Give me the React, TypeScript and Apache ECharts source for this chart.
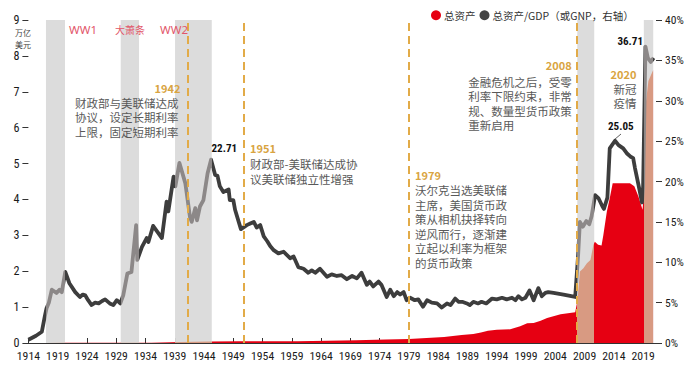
import React, { useEffect, useRef } from 'react';
import * as echarts from 'echarts';

// Fed total assets / GDP (%), right axis — positions on the chart's year axis
const ratioYears = [
  1914.0, 1915.3, 1916.3, 1916.8, 1917.1, 1917.5, 1918.0, 1918.8, 1919.3, 1919.7, 1920.3,
  1921.0, 1922.0, 1922.8, 1923.3, 1923.7, 1924.2, 1924.8, 1925.4, 1926.0, 1926.6, 1927.1,
  1927.9, 1928.5, 1929.1, 1929.7, 1930.2, 1930.9, 1931.6, 1932.4, 1932.6, 1933.4, 1934.2,
  1934.5, 1935.3, 1936.1, 1936.8, 1937.6, 1937.9, 1938.8, 1939.1, 1939.8, 1940.8, 1941.6,
  1941.9, 1942.5, 1942.8, 1943.3, 1943.9, 1944.6, 1945.2, 1945.9, 1946.3, 1946.7, 1947.3,
  1948.2, 1948.4, 1949.0, 1949.3, 1950.3, 1951.3, 1951.9, 1952.5, 1953.0, 1953.6, 1954.2,
  1954.8, 1955.3, 1955.9, 1956.7, 1957.6, 1958.7, 1959.3, 1960.1, 1961.0, 1961.8, 1962.4,
  1963.0, 1963.8, 1965.0, 1965.8, 1966.7, 1967.5, 1968.4, 1969.3, 1970.1, 1970.9, 1971.8,
  1972.3, 1972.9, 1973.8, 1974.3, 1975.2, 1975.8, 1976.4, 1977.0, 1977.5, 1978.1, 1978.6,
  1979.2, 1980.0, 1980.6, 1981.4, 1982.1, 1982.9, 1983.8, 1984.6, 1985.5, 1986.1, 1986.9,
  1987.5, 1988.1, 1988.9, 1989.4, 1990.0, 1990.8, 1991.4, 1992.2, 1993.2, 1994.0, 1994.9,
  1995.7, 1996.6, 1997.2, 1997.7, 1998.3, 1998.9, 1999.6, 2000.3, 2001.1, 2001.7, 2002.3,
  2002.8, 2003.7, 2005.4, 2007.4, 2007.9, 2008.2, 2008.7, 2009.3, 2009.8, 2010.2, 2010.8,
  2011.4, 2012.0, 2012.3, 2012.9, 2013.3, 2014.2, 2014.8, 2015.6, 2016.2, 2016.8, 2017.3,
  2017.6, 2018.2, 2018.8, 2019.0, 2019.4, 2019.8, 2020.3, 2020.8,
];
const ratioValues = [
  0.4, 0.9, 1.4, 3.3, 4.3, 5.0, 6.6, 6.2, 6.6, 6.3, 8.8,
  7.4, 6.3, 5.7, 6.0, 5.9, 5.3, 4.7, 5.0, 4.9, 5.2, 5.4,
  4.9, 4.7, 5.3, 4.9, 5.9, 8.6, 8.8, 14.6, 10.3, 11.9, 13.0,
  12.5, 14.5, 13.7, 13.0, 17.5, 16.3, 20.6, 19.4, 22.3, 19.8, 15.6,
  15.0, 16.7, 15.2, 16.9, 17.7, 21.0, 22.71, 20.8, 20.7, 19.4, 18.7,
  19.0, 17.7, 17.7, 16.5, 14.1, 14.6, 14.8, 15.0, 14.3, 14.6, 13.2,
  12.6, 12.0, 11.5, 11.1, 11.3, 10.5, 10.7, 9.4, 9.2, 8.7, 9.0,
  8.7, 9.2, 8.2, 8.5, 8.3, 8.4, 7.9, 8.3, 8.0, 8.7, 7.2,
  7.6, 7.0, 7.6, 7.2, 5.7, 6.6, 5.8, 6.3, 6.0, 6.3, 5.3,
  5.6, 5.3, 5.4, 4.5, 5.3, 5.0, 4.9, 4.4, 4.9, 4.7, 5.5,
  5.1, 5.1, 4.9, 4.7, 5.1, 4.9, 5.1, 4.9, 5.5, 5.4, 5.6,
  5.4, 5.6, 5.3, 5.8, 5.4, 5.6, 6.5, 5.3, 6.8, 5.8, 6.2,
  6.3, 6.2, 6.0, 5.7, 10.9, 15.0, 14.4, 15.1, 14.7, 15.7, 18.3,
  17.9, 17.0, 16.6, 18.0, 24.1, 25.05, 24.5, 24.1, 23.5, 23.1, 22.9,
  21.7, 19.6, 17.4, 19.4, 36.71, 35.3, 34.8, 35.3,
];

// Fed total assets (trillion USD), left axis
const assetYears = [
  1914, 1917, 1920, 1925, 1930, 1935, 1940, 1945, 1950, 1955, 1960, 1965, 1970, 1975,
  1979, 1982, 1985, 1988, 1990, 1991.3, 1992.5, 1994, 1996.3, 1998, 1999.2, 2000.3,
  2001.5, 2002.6, 2004.9, 2007.4, 2007.8, 2008.2, 2008.8, 2009.4, 2010.0, 2010.5, 2010.75,
  2011.3, 2011.9, 2012.2, 2012.8, 2013.3, 2013.8, 2016.75, 2017.5, 2018.2, 2018.9, 2019.1,
  2019.4, 2019.9, 2020.7,
];
const assetValues = [
  0.001, 0.003, 0.006, 0.005, 0.006, 0.01, 0.025, 0.045, 0.047, 0.05, 0.052, 0.06, 0.075, 0.095,
  0.11, 0.14, 0.17, 0.22, 0.25, 0.29, 0.34, 0.37, 0.38, 0.47, 0.55, 0.56,
  0.62, 0.7, 0.8, 0.86, 1.2, 1.99, 2.08, 2.22, 2.31, 2.73, 2.82,
  2.74, 2.72, 3.0, 3.66, 4.03, 4.45, 4.45, 4.37, 4.08, 3.71, 4.1,
  6.6, 7.3, 7.6,
];

const xTickYears = [
  1914, 1919, 1924, 1929, 1934, 1939, 1944, 1949, 1954, 1959, 1964, 1969, 1974, 1979,
  1984, 1989, 1994, 1999, 2004, 2009, 2014, 2019,
];

const bandStarts = [1917.0, 1929.77, 1939.05, 2007.75, 2019.12];
const bandEnds = [1920.25, 1932.9, 1945.32, 2010.65, 2020.73];
const eventYears = [1941.2, 1950.84, 1979.04, 2007.69];

const seriesAssets = '总资产';
const seriesRatio = '总资产/GDP（或GNP，右轴）';

const RED = '#e60012';
const RED_IN_BAND = '#d89a82';
const LINE = '#3d3d3d';
const LINE_IN_BAND = '#8c8888';
const GOLD = '#d9a441';
const NOTE = '#595959';
const WAR = '#e2566a';
const CJK = '"Noto Sans CJK SC", "Noto Sans", sans-serif';

// pick the narrowest installed sans for the condensed-looking numerals
function pickNarrow() {
  const candidates = [
    'Liberation Sans Narrow',
    'Roboto Condensed',
    'Noto Sans ExtraCondensed',
    'Noto Sans Condensed',
    'DejaVu Sans Condensed',
    'Liberation Sans',
  ];
  const canvas = document.createElement('canvas');
  const ctx = canvas.getContext('2d');
  const sample = '1914 22.71 WMi%';
  if (!ctx) return { family: 'sans-serif', digit: 0.556, boldDigit: 0.556 };
  const w = (font: string) => {
    ctx.font = font;
    return ctx.measureText(sample).width;
  };
  const mono = w('100px monospace');
  const serif = w('100px serif');
  let chosen = 'Liberation Sans';
  let best = Infinity;
  for (const c of candidates) {
    const a = w(`100px "${c}", monospace`);
    const b = w(`100px "${c}", serif`);
    const installed = !(a === mono && b === serif) && Math.abs(a - b) < 0.01;
    if (installed) {
      ctx.font = `100px "${c}"`;
      const d = ctx.measureText('1914').width / 400;
      if (d < best) {
        best = d;
        chosen = c;
      }
    }
  }
  ctx.font = `100px "${chosen}"`;
  const digit = ctx.measureText('1914').width / 400;
  ctx.font = `bold 100px "${chosen}"`;
  const boldDigit = ctx.measureText('2271').width / 400;
  return { family: `"${chosen}", sans-serif`, digit, boldDigit };
}

function buildPieces(base: string, inBand: string) {
  const pieces: any[] = [];
  for (let i = 0; i < bandStarts.length; i++) {
    if (i === 0) pieces.push({ lt: bandStarts[0], color: base });
    else pieces.push({ gt: bandEnds[i - 1], lt: bandStarts[i], color: base });
    pieces.push({ gte: bandStarts[i], lte: bandEnds[i], color: inBand });
  }
  pieces.push({ gt: bandEnds[bandEnds.length - 1], color: base });
  return pieces;
}

function txt(x: number, y: number, text: string, opts: any = {}) {
  return {
    type: 'text',
    x,
    y,
    z: 100,
    silent: true,
    style: {
      text,
      fill: opts.fill || NOTE,
      fontSize: opts.fontSize || 11.5,
      fontFamily: opts.fontFamily || CJK,
      fontWeight: opts.fontWeight || 'normal',
      align: opts.align || 'left',
      verticalAlign: opts.verticalAlign || 'middle',
      lineHeight: opts.lineHeight || 14.5,
    },
  };
}

export default function App() {
  const ref = useRef<HTMLDivElement>(null);

  useEffect(() => {
    if (!ref.current) return;
    const chart = echarts.init(ref.current, undefined, { renderer: 'svg' });

    const narrow = pickNarrow();
    // reference numerals: ~5.8px per digit on axes, ~5.3px per bold digit for peak values
    const xFont = Math.min(15, 5.8 / narrow.digit);
    const yFont = Math.min(16, 6.0 / narrow.digit);
    const rFont = Math.min(15, 5.7 / narrow.digit);
    const peakFont = Math.min(14, 5.6 / narrow.boldDigit);

    const ratioData = ratioYears.map((y, i) => [y, ratioValues[i]]);
    const assetData = assetYears.map((y, i) => [y, assetValues[i]]);

    const option: any = {
      animation: false,
      backgroundColor: '#ffffff',
      grid: { left: 28.4, right: 40, top: 20, bottom: 24, containLabel: false, outerBoundsMode: 'none' },
      legend: {
        left: 426,
        top: 5,
        itemWidth: 10,
        itemHeight: 10,
        itemGap: 4,
        icon: 'circle',
        textStyle: { fontSize: 10.5, color: '#333', fontFamily: CJK, padding: [0, 0, 0, -2] },
        data: [
          { name: seriesAssets, icon: 'circle', itemStyle: { color: RED } },
          { name: seriesRatio, icon: 'circle', itemStyle: { color: '#444' } },
        ],
      },
      xAxis: {
        type: 'value',
        min: 1914,
        max: 2021.2,
        splitLine: { show: false },
        axisLine: { show: true, lineStyle: { color: '#333', width: 1.2 } },
        axisTick: { show: true, inside: true, length: 5, customValues: xTickYears, lineStyle: { color: '#333' } },
        axisLabel: {
          customValues: xTickYears,
          margin: 6.5,
          color: '#1a1a1a',
          fontSize: xFont,
          fontFamily: narrow.family,
          hideOverlap: false,
          showMinLabel: true,
          showMaxLabel: true,
          formatter: (v: number) => String(Math.round(v)),
        },
      },
      yAxis: [
        {
          type: 'value',
          min: 0,
          max: 9,
          interval: 1,
          splitLine: { show: false },
          axisLine: { show: false },
          axisTick: { show: true, inside: false, length: 6, lineStyle: { color: '#333' } },
          axisLabel: { margin: 9, color: '#1a1a1a', fontSize: yFont, fontFamily: narrow.family, hideOverlap: false },
        },
        {
          type: 'value',
          min: 0,
          max: 40,
          interval: 5,
          position: 'right',
          splitLine: { show: false },
          axisLine: { show: false },
          axisTick: { show: true, inside: false, length: 6, lineStyle: { color: '#333' } },
          axisLabel: {
            margin: 9,
            color: '#1a1a1a',
            fontSize: rFont,
            fontFamily: narrow.family,
            formatter: '{value}%',
            hideOverlap: false,
          },
        },
      ],
      visualMap: [
        { type: 'piecewise', show: false, seriesIndex: 1, dimension: 0, pieces: buildPieces(RED, RED_IN_BAND) },
        { type: 'piecewise', show: false, seriesIndex: 3, dimension: 0, pieces: buildPieces(LINE, LINE_IN_BAND) },
      ],
      series: [
        {
          name: '_bands',
          type: 'line',
          z: 1,
          yAxisIndex: 0,
          data: [[1914, 0]],
          symbol: 'none',
          lineStyle: { opacity: 0 },
          silent: true,
          markArea: {
            silent: true,
            itemStyle: { color: '#dcdcdc' },
            label: { show: false },
            data: bandStarts.map((s, i) => [{ xAxis: s }, { xAxis: bandEnds[i] }]),
          },
        },
        {
          name: seriesAssets,
          type: 'line',
          z: 2,
          yAxisIndex: 0,
          data: assetData,
          symbol: 'none',
          itemStyle: { color: RED },
          lineStyle: { width: 0, opacity: 0 },
          areaStyle: { opacity: 1 },
          silent: true,
        },
        {
          name: '_events',
          type: 'line',
          z: 3,
          yAxisIndex: 0,
          data: [[1914, 0]],
          symbol: 'none',
          lineStyle: { opacity: 0 },
          silent: true,
          markLine: {
            silent: true,
            symbol: ['none', 'none'],
            label: { show: false },
            lineStyle: { color: '#e2ab48', width: 2, type: [8, 5] },
            data: eventYears.map((x) => ({ xAxis: x })),
          },
        },
        {
          name: seriesRatio,
          type: 'line',
          z: 4,
          yAxisIndex: 1,
          data: ratioData,
          symbol: 'none',
          itemStyle: { color: LINE },
          lineStyle: { width: 3.8, join: 'round' },
          silent: true,
        },
      ],
      graphic: [
        txt(23, 26.4, '万亿\n美元', { align: 'center', verticalAlign: 'top', fontSize: 8, lineHeight: 11.8, fill: '#444' }),
        txt(69, 29, 'WW1', { fill: WAR, fontSize: 11.5, fontFamily: '"Noto Sans", sans-serif' }),
        txt(115, 29, '大萧条', { fill: WAR, fontSize: 10 }),
        txt(160, 29, 'WW2', { fill: WAR, fontSize: 11.5, fontFamily: '"Noto Sans", sans-serif' }),
        txt(180.5, 88.3, '1942', { fill: GOLD, fontWeight: 'bold', fontSize: 11, align: 'right' }),
        txt(75, 95.5, '财政部与美联储达成\n协议，设定长期利率\n上限，固定短期利率', { verticalAlign: 'top' }),
        txt(211.5, 148.3, '22.71', { fill: '#111', fontWeight: 'bold', fontSize: peakFont, fontFamily: narrow.family }),
        txt(250, 147.7, '1951', { fill: GOLD, fontWeight: 'bold', fontSize: 11 }),
        txt(250, 156, '财政部-美联储达成协\n议美联储独立性增强', { verticalAlign: 'top', lineHeight: 15 }),
        txt(415, 175, '1979', { fill: GOLD, fontWeight: 'bold', fontSize: 11 }),
        txt(415, 182.8, '沃尔克当选美联储\n主席，美国货币政\n策从相机抉择转向\n逆风而行，逐渐建\n立起以利率为框架\n的货币政策', { verticalAlign: 'top' }),
        txt(571.7, 65, '2008', { fill: GOLD, fontWeight: 'bold', fontSize: 11, align: 'right' }),
        txt(468.3, 74.5, '金融危机之后，受零\n利率下限约束，非常\n规、数量型货币政策\n重新启用', { verticalAlign: 'top' }),
        txt(636.5, 74, '2020', { fill: GOLD, fontWeight: 'bold', fontSize: 11, align: 'right' }),
        txt(636.5, 81.5, '新冠\n疫情', { verticalAlign: 'top', align: 'right' }),
        txt(608, 126.7, '25.05', { fill: '#111', fontWeight: 'bold', fontSize: peakFont, fontFamily: narrow.family }),
        txt(643, 41, '36.71', { fill: '#111', fontWeight: 'bold', fontSize: peakFont, fontFamily: narrow.family, align: 'right' }),
        {
          type: 'line',
          z: 100,
          silent: true,
          shape: { x1: 614.5, y1: 139.5, x2: 621, y2: 134 },
          style: { stroke: '#333', lineWidth: 0.8 },
        },
      ],
    };

    chart.setOption(option);
    return () => chart.dispose();
  }, []);

  return (
    <div
      ref={ref}
      style={{ position: 'absolute', left: 0, top: 0, width: 696, height: 367, background: '#fff' }}
    />
  );
}
